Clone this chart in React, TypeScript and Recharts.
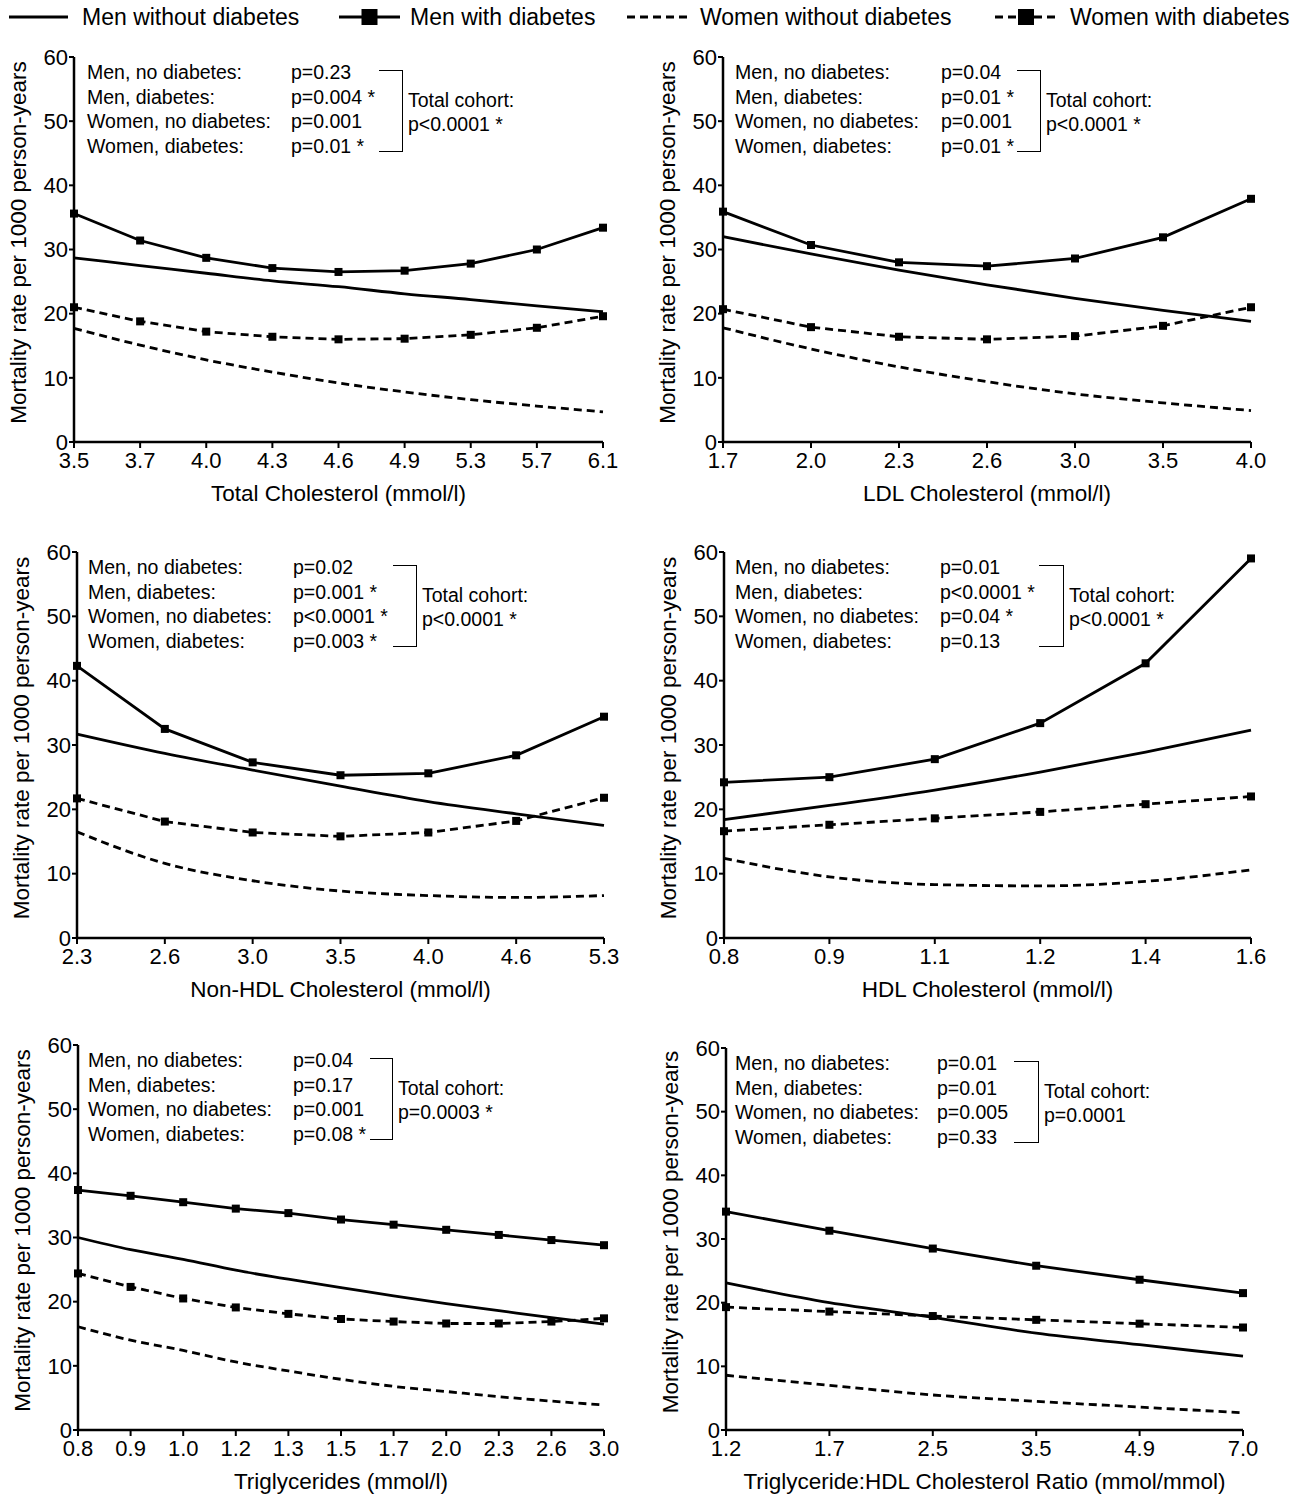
import React from 'react'
import { LineChart, Line, XAxis, YAxis } from 'recharts'

// Total cholesterol
const tcCats = ['3.5', '3.7', '4.0', '4.3', '4.6', '4.9', '5.3', '5.7', '6.1']
const tcMenNoDm = [28.7, 27.5, 26.3, 25.1, 24.2, 23.1, 22.2, 21.2, 20.3]
const tcMenDm = [35.6, 31.4, 28.7, 27.1, 26.5, 26.7, 27.8, 30.0, 33.4]
const tcWomenNoDm = [17.7, 15.1, 12.8, 10.9, 9.2, 7.8, 6.6, 5.6, 4.7]
const tcWomenDm = [21.0, 18.8, 17.2, 16.4, 16.0, 16.1, 16.7, 17.8, 19.6]
const tcP = ['p=0.23', 'p=0.004 *', 'p=0.001', 'p=0.01 *']
const tcTotal = 'p<0.0001 *'

// LDL cholesterol
const ldlCats = ['1.7', '2.0', '2.3', '2.6', '3.0', '3.5', '4.0']
const ldlMenNoDm = [32.0, 29.3, 26.8, 24.5, 22.4, 20.5, 18.8]
const ldlMenDm = [35.9, 30.7, 28.0, 27.4, 28.6, 31.9, 37.9]
const ldlWomenNoDm = [17.8, 14.5, 11.7, 9.4, 7.5, 6.1, 4.9]
const ldlWomenDm = [20.7, 17.9, 16.4, 16.0, 16.5, 18.1, 21.0]
const ldlP = ['p=0.04', 'p=0.01 *', 'p=0.001', 'p=0.01 *']
const ldlTotal = 'p<0.0001 *'

// Non-HDL cholesterol
const nhCats = ['2.3', '2.6', '3.0', '3.5', '4.0', '4.6', '5.3']
const nhMenNoDm = [31.7, 28.7, 26.1, 23.6, 21.2, 19.3, 17.5]
const nhMenDm = [42.3, 32.5, 27.3, 25.3, 25.6, 28.4, 34.4]
const nhWomenNoDm = [16.5, 11.6, 8.9, 7.3, 6.6, 6.3, 6.6]
const nhWomenDm = [21.7, 18.1, 16.4, 15.8, 16.4, 18.2, 21.8]
const nhP = ['p=0.02', 'p=0.001 *', 'p<0.0001 *', 'p=0.003 *']
const nhTotal = 'p<0.0001 *'

// HDL cholesterol
const hdlCats = ['0.8', '0.9', '1.1', '1.2', '1.4', '1.6']
const hdlMenNoDm = [18.4, 20.6, 23.0, 25.8, 28.9, 32.3]
const hdlMenDm = [24.2, 25.0, 27.8, 33.4, 42.7, 59.0]
const hdlWomenNoDm = [12.4, 9.5, 8.3, 8.1, 8.8, 10.6]
const hdlWomenDm = [16.6, 17.6, 18.6, 19.6, 20.8, 22.0]
const hdlP = ['p=0.01', 'p<0.0001 *', 'p=0.04 *', 'p=0.13']
const hdlTotal = 'p<0.0001 *'

// Triglycerides
const tgCats = ['0.8', '0.9', '1.0', '1.2', '1.3', '1.5', '1.7', '2.0', '2.3', '2.6', '3.0']
const tgMenNoDm = [30.0, 28.1, 26.6, 24.9, 23.5, 22.2, 20.9, 19.7, 18.6, 17.5, 16.5]
const tgMenDm = [37.4, 36.5, 35.5, 34.5, 33.8, 32.8, 32.0, 31.2, 30.4, 29.6, 28.8]
const tgWomenNoDm = [16.1, 14.0, 12.4, 10.6, 9.2, 7.9, 6.8, 6.0, 5.2, 4.5, 3.9]
const tgWomenDm = [24.4, 22.3, 20.5, 19.1, 18.1, 17.3, 16.9, 16.6, 16.6, 16.9, 17.4]
const tgP = ['p=0.04', 'p=0.17', 'p=0.001', 'p=0.08 *']
const tgTotal = 'p=0.0003 *'

// Triglyceride:HDL ratio
const ratioCats = ['1.2', '1.7', '2.5', '3.5', '4.9', '7.0']
const ratioMenNoDm = [23.1, 20.0, 17.7, 15.2, 13.4, 11.6]
const ratioMenDm = [34.3, 31.3, 28.5, 25.8, 23.6, 21.5]
const ratioWomenNoDm = [8.6, 7.0, 5.5, 4.5, 3.6, 2.7]
const ratioWomenDm = [19.3, 18.6, 17.9, 17.3, 16.7, 16.1]
const ratioP = ['p=0.01', 'p=0.01', 'p=0.005', 'p=0.33']
const ratioTotal = 'p=0.0001'

const groupLabels = ['Men, no diabetes:', 'Men, diabetes:', 'Women, no diabetes:', 'Women, diabetes:']
const yTicks = [0, 10, 20, 30, 40, 50, 60]
const yTitle = 'Mortality rate per 1000 person-years'

const FONT = '"Liberation Sans", Arial, Helvetica, sans-serif'
const INK = '#000'
const DASH = '8 5'

const panels = [
  {
    cats: tcCats, menNoDm: tcMenNoDm, menDm: tcMenDm, womenNoDm: tcWomenNoDm, womenDm: tcWomenDm,
    xTitle: 'Total Cholesterol (mmol/l)', pVals: tcP, total: tcTotal,
    box: { l: 74, r: 603, t: 57, b: 442 },
    note: { label: 87, p: 291, from: 379, bracket: 403, total: 408 },
  },
  {
    cats: ldlCats, menNoDm: ldlMenNoDm, menDm: ldlMenDm, womenNoDm: ldlWomenNoDm, womenDm: ldlWomenDm,
    xTitle: 'LDL Cholesterol (mmol/l)', pVals: ldlP, total: ldlTotal,
    box: { l: 723, r: 1251, t: 57, b: 442 },
    note: { label: 735, p: 941, from: 1017, bracket: 1041, total: 1046 },
  },
  {
    cats: nhCats, menNoDm: nhMenNoDm, menDm: nhMenDm, womenNoDm: nhWomenNoDm, womenDm: nhWomenDm,
    xTitle: 'Non-HDL Cholesterol (mmol/l)', pVals: nhP, total: nhTotal,
    box: { l: 77, r: 604, t: 552, b: 938 },
    note: { label: 88, p: 293, from: 393, bracket: 417, total: 422 },
  },
  {
    cats: hdlCats, menNoDm: hdlMenNoDm, menDm: hdlMenDm, womenNoDm: hdlWomenNoDm, womenDm: hdlWomenDm,
    xTitle: 'HDL Cholesterol (mmol/l)', pVals: hdlP, total: hdlTotal,
    box: { l: 724, r: 1251, t: 552, b: 938 },
    note: { label: 735, p: 940, from: 1039, bracket: 1064, total: 1069 },
  },
  {
    cats: tgCats, menNoDm: tgMenNoDm, menDm: tgMenDm, womenNoDm: tgWomenNoDm, womenDm: tgWomenDm,
    xTitle: 'Triglycerides (mmol/l)', pVals: tgP, total: tgTotal,
    box: { l: 78, r: 604, t: 1045, b: 1430 },
    note: { label: 88, p: 293, from: 370, bracket: 393, total: 398 },
  },
  {
    cats: ratioCats, menNoDm: ratioMenNoDm, menDm: ratioMenDm, womenNoDm: ratioWomenNoDm, womenDm: ratioWomenDm,
    xTitle: 'Triglyceride:HDL Cholesterol Ratio (mmol/mmol)', pVals: ratioP, total: ratioTotal,
    box: { l: 726, r: 1243, t: 1048, b: 1430 },
    note: { label: 735, p: 937, from: 1014, bracket: 1039, total: 1044 },
  },
]

type PanelDef = (typeof panels)[number]

function SquareDot(props: any) {
  const { cx, cy, size = 8 } = props
  if (cx == null || cy == null) return null
  return <rect x={cx - size / 2} y={cy - size / 2} width={size} height={size} fill={INK} />
}

// rotated y-axis title, centred a little above the plot middle like the original
function YTitle(props: any) {
  const { viewBox } = props
  if (!viewBox) return null
  const x = viewBox.x + viewBox.width - 56
  const y = viewBox.y + viewBox.height / 2 - 7
  return (
    <text
      x={x} y={y} transform={`rotate(-90, ${x}, ${y})`} textAnchor="middle" dominantBaseline="central"
      fontSize={22.5} fontFamily={FONT} fill={INK}
    >
      {yTitle}
    </text>
  )
}

const AXIS_W = 75
const TOP_PAD = 15
const RIGHT_PAD = 30
const XAXIS_H = 68

function Panel({ p }: { p: PanelDef }) {
  const { box, note } = p
  const left = box.l - AXIS_W
  const top = box.t - TOP_PAD
  const width = box.r - left + RIGHT_PAD
  const height = box.b - top + XAXIS_H
  const rows = p.cats.map((c, i) => ({
    x: c,
    menNoDm: p.menNoDm[i],
    menDm: p.menDm[i],
    womenNoDm: p.womenNoDm[i],
    womenDm: p.womenDm[i],
  }))
  const textStyle: React.CSSProperties = {
    position: 'absolute', fontFamily: FONT, fontSize: 19.5, lineHeight: '24px', whiteSpace: 'nowrap', color: INK,
  }
  return (
    <>
      <div style={{ position: 'absolute', left, top }}>
        <LineChart width={width} height={height} data={rows} margin={{ top: TOP_PAD, right: RIGHT_PAD, bottom: 0, left: 0 }}>
          <XAxis
            dataKey="x"
            height={XAXIS_H}
            interval={0}
            tick={{ fontSize: 22, fill: INK, fontFamily: FONT }}
            tickSize={6}
            tickMargin={4}
            axisLine={{ stroke: INK, strokeWidth: 2.5 }}
            tickLine={{ stroke: INK, strokeWidth: 2 }}
            label={{ value: p.xTitle, position: 'insideBottom', offset: 9, fontSize: 22.5, fill: INK, fontFamily: FONT }}
          />
          <YAxis
            width={AXIS_W}
            domain={[0, 60]}
            ticks={yTicks}
            allowDataOverflow
            tick={{ fontSize: 22, fill: INK, fontFamily: FONT }}
            tickSize={5}
            tickMargin={1}
            axisLine={{ stroke: INK, strokeWidth: 2.5 }}
            tickLine={{ stroke: INK, strokeWidth: 2 }}
            label={<YTitle />}
          />
          <Line type="monotone" dataKey="menNoDm" stroke={INK} strokeWidth={2.8} dot={false} isAnimationActive={false} />
          <Line type="linear" dataKey="menDm" stroke={INK} strokeWidth={2.8} dot={<SquareDot />} isAnimationActive={false} />
          <Line type="monotone" dataKey="womenNoDm" stroke={INK} strokeWidth={2.8} strokeDasharray={DASH} dot={false} isAnimationActive={false} />
          <Line type="linear" dataKey="womenDm" stroke={INK} strokeWidth={2.8} strokeDasharray={DASH} dot={<SquareDot />} isAnimationActive={false} />
        </LineChart>
      </div>
      {groupLabels.map((g, i) => (
        <React.Fragment key={g}>
          <div style={{ ...textStyle, left: note.label, top: box.t + 3 + i * 24.5 }}>{g}</div>
          <div style={{ ...textStyle, left: note.p, top: box.t + 3 + i * 24.5 }}>{p.pVals[i]}</div>
        </React.Fragment>
      ))}
      <div
        style={{
          position: 'absolute', left: note.from, top: box.t + 13, width: note.bracket - note.from, height: 82,
          borderTop: `1.5px solid ${INK}`, borderRight: `1.5px solid ${INK}`, borderBottom: `1.5px solid ${INK}`,
          boxSizing: 'border-box',
        }}
      />
      <div style={{ ...textStyle, left: note.total, top: box.t + 31 }}>Total cohort:</div>
      <div style={{ ...textStyle, left: note.total, top: box.t + 55 }}>{p.total}</div>
    </>
  )
}

const legendItems = [
  { label: 'Men without diabetes', x1: 9, x2: 68, textX: 82, dashed: false, marker: false },
  { label: 'Men with diabetes', x1: 339, x2: 400, textX: 410, dashed: false, marker: true },
  { label: 'Women without diabetes', x1: 627, x2: 690, textX: 700, dashed: true, marker: false },
  { label: 'Women with diabetes', x1: 995, x2: 1057, textX: 1070, dashed: true, marker: true },
]

function Legend() {
  return (
    <svg width={1297} height={36} style={{ position: 'absolute', left: 0, top: 0 }}>
      {legendItems.map(it => (
        <g key={it.label}>
          <line x1={it.x1} x2={it.x2} y1={17} y2={17} stroke={INK} strokeWidth={3} strokeDasharray={it.dashed ? '8 5' : undefined} />
          {it.marker && <rect x={(it.x1 + it.x2) / 2 - 8} y={9} width={16} height={16} fill={INK} />}
          <text x={it.textX} y={25} fontSize={23} fontFamily={FONT} fill={INK}>{it.label}</text>
        </g>
      ))}
    </svg>
  )
}

export default function App() {
  return (
    <div style={{ position: 'absolute', left: 0, top: 0, width: 1297, height: 1500, background: '#fff', overflow: 'hidden' }}>
      <Legend />
      {panels.map(p => (
        <Panel key={p.xTitle} p={p} />
      ))}
    </div>
  )
}
